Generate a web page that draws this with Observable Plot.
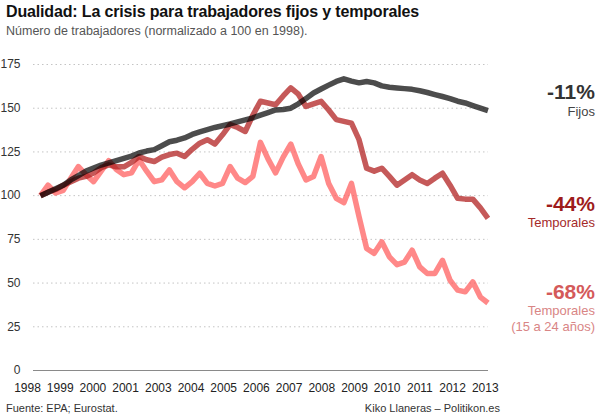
<!DOCTYPE html>
<html>
<head>
<meta charset="utf-8">
<script src="https://cdn.jsdelivr.net/npm/d3@7"></script>
<script src="https://cdn.jsdelivr.net/npm/@observablehq/plot@0.6"></script>
<style>
  html, body { margin: 0; padding: 0; background: #fff; }
  #wrap { position: relative; width: 605px; height: 419px; font-family: "Liberation Sans", Arial, sans-serif; overflow: hidden; }
  .t { position: absolute; white-space: nowrap; line-height: 1; }
  #title { left: 6px; top: 4px; font-size: 16px; font-weight: bold; letter-spacing: -0.15px; color: #111; }
  #subtitle { left: 6px; top: 25px; font-size: 12.5px; color: #555; }
  #source { left: 6px; top: 403px; font-size: 11px; color: #333; }
  #credit { right: 105px; top: 403px; font-size: 11px; color: #333; }
  #chart { position: absolute; left: 0; top: 44px; }
</style>
</head>
<body>
<div id="wrap">
  <div class="t" id="title">Dualidad: La crisis para trabajadores fijos y temporales</div>
  <div class="t" id="subtitle">Número de trabajadores (normalizado a 100 en 1998).</div>
  <div id="chart"></div>
  <div class="t" id="source">Fuente: EPA; Eurostat.</div>
  <div class="t" id="credit">Kiko Llaneras – Politikon.es</div>
</div>
<script>
// Quarterly series, 1998T1 … 2012T4 (index 0..59), normalized to 100
const fijos = [100, 102, 104, 106, 109, 111.5, 114, 115.8, 117.5, 118.8,
  120, 121.3, 122.6, 124.4, 125.5, 126.3, 128.5, 130.8, 131.7, 133,
  135, 136.5, 137.8, 139, 140, 141, 142.2, 143.3, 144.5, 146,
  147.5, 149, 149.3, 150, 152.5, 155.5, 158.7, 161, 163.2, 165.3,
  166.8, 165.5, 164.5, 165.3, 164.5, 162.8, 162, 161.6, 161.2, 160.8,
  160, 159, 157.8, 156.7, 155.5, 154, 153, 151.5, 150, 148.6];

const temporales = [100, 102, 103.5, 106, 108, 110, 111, 113, 116, 117.6,
  116.5, 116.5, 119, 122.4, 120.5, 119.5, 122, 123.5, 124.3, 122.4,
  126.5, 130, 132, 129.5, 134.8, 140.6, 139, 136.7, 146, 154,
  153, 152, 157, 161.6, 158, 151, 152.5, 153.9, 149, 143.5,
  142.5, 141.5, 132, 115.7, 114, 115.7, 111, 106, 109, 112,
  109, 107, 110, 112.8, 106, 98.5, 98, 98, 93, 87];

const jovenes = [100, 106, 101.5, 103, 110, 116.6, 112, 108, 114, 120,
  115, 112, 113, 120.5, 114, 108, 109, 114.7, 108, 104.5,
  108, 112.8, 107, 105.5, 107, 116.6, 110, 107.5, 111, 130.5,
  121, 113, 122, 129.5, 118, 109, 111, 122.4, 107, 98.5,
  96, 107, 88, 69.8, 67, 73.6, 65, 60.5, 62, 68.8,
  59.3, 55.5, 55.5, 63, 51.6, 46, 45, 50.7, 42, 38.6];

const yTicks = [0, 25, 50, 75, 100, 125, 150, 175];
const yearLabels = ["1998", "1999", "2000", "2001", "2003", "2004", "2005", "2006",
  "2007", "2008", "2009", "2010", "2011", "2012", "2013"];

const endLabels = [
  {serie: fijos,      big: "-11%", lines: ["Fijos"], bigColor: "#333333", smallColor: "#444444"},
  {serie: temporales, big: "-44%", lines: ["Temporales"], bigColor: "#9e1c1c", smallColor: "#a52a2a"},
  {serie: jovenes,    big: "-68%", lines: ["Temporales", "(15 a 24 años)"], bigColor: "#d45a5a", smallColor: "#d98585"}
];

const toRows = s => s.map((v, i) => ({i, v}));

// year labels are spread evenly across the axis (as in the original graphic)
const firstPos = -1.71, stepPos = 4.311;
const xTickRows = yearLabels.map((label, k) => ({pos: firstPos + stepPos * k, label}));

const last = fijos.length - 1;
const labelMarks = [];
const bigDy = [-18, -14.5, -11];
const smallDy = [[1.5], [4], [7.5, 24]];
endLabels.forEach((L, j) => {
  const row = [{i: last, v: L.serie[last]}];
  labelMarks.push(Plot.text(row, {x: "i", y: "v", text: () => L.big, dx: 107, dy: bigDy[j],
    textAnchor: "end", lineAnchor: "middle", fontSize: 21, fontWeight: "bold", fill: L.bigColor}));
  L.lines.forEach((t, m) => {
    labelMarks.push(Plot.text(row, {x: "i", y: "v", text: () => t, dx: 107, dy: smallDy[j][m],
      textAnchor: "end", lineAnchor: "middle", fontSize: 13, fill: L.smallColor}));
  });
});

const chart = Plot.plot({
  width: 605,
  height: 354,
  marginLeft: 33,
  marginRight: 117,
  marginTop: 20,
  marginBottom: 28,
  style: {fontFamily: "'Liberation Sans', Arial, sans-serif", background: "transparent", overflow: "visible"},
  x: {domain: [-0.92, 59.07], axis: null},
  y: {domain: [0, 175], axis: null},
  marks: [
    Plot.ruleY(yTicks.filter(d => d > 0), {stroke: "#c4c4c4", strokeDasharray: "1.5,3", strokeWidth: 1}),
    Plot.ruleY([0], {stroke: "#8a8a8a", strokeWidth: 1}),
    Plot.axisY(yTicks, {tickSize: 0, tickPadding: 13, fontSize: 12, fill: "#333", label: null}),
    Plot.text(xTickRows, {x: "pos", text: "label", frameAnchor: "bottom", dy: 21, lineAnchor: "bottom",
      fontSize: 12, fill: "#222"}),
    Plot.line(toRows(jovenes), {x: "i", y: "v", stroke: "#ff5555", strokeOpacity: 0.7, strokeWidth: 5.5,
      strokeLinejoin: "round", strokeLinecap: "butt"}),
    Plot.line(toRows(temporales), {x: "i", y: "v", stroke: "#b22222", strokeOpacity: 0.75, strokeWidth: 5.5,
      strokeLinejoin: "round", strokeLinecap: "butt"}),
    Plot.line(toRows(fijos), {x: "i", y: "v", stroke: "#000000", strokeOpacity: 0.7, strokeWidth: 5.5,
      strokeLinejoin: "round", strokeLinecap: "butt"}),
    ...labelMarks
  ]
});
document.getElementById("chart").appendChild(chart);
</script>
</body>
</html>
